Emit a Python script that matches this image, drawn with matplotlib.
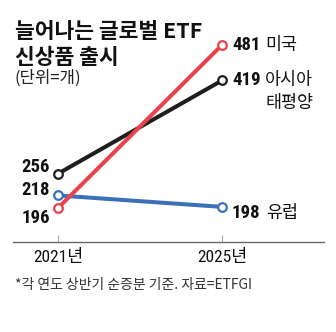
import matplotlib
matplotlib.use("Agg")
import matplotlib.pyplot as plt

# ---- data ----
years = [2021, 2025]
year_labels = ["2021년", "2025년"]
series_names = ["유럽", "아시아\n태평양", "미국"]
europe = [218, 198]
asia = [256, 419]
usa = [196, 481]
title_lines = ["늘어나는 글로벌 ETF", "신상품 출시"]
unit_text = "(단위=개)"
note_text = "*각 연도 상반기 순증분 기준. 자료=ETFGI"

KR = "Noto Sans CJK KR"
NUM = ["Roboto Condensed", KR, "DejaVu Sans"]
plt.rcParams["font.family"] = [KR, "DejaVu Sans"]

W, H = 336, 332
fig = plt.figure(figsize=(W / 100, H / 100), dpi=100)

# axes placement in pixels (from top-left)
ax_left, ax_right = 13, 324
ax_top, ax_bottom = 20, 242
ax = fig.add_axes([ax_left / W, (H - ax_bottom) / H,
                   (ax_right - ax_left) / W, (ax_bottom - ax_top) / H])
ax.set_xlim(2019.902, 2027.488)
ax.set_ylim(136.6, 524.7)
for s in ["top", "right", "left"]:
    ax.spines[s].set_visible(False)
ax.spines["bottom"].set_color("#666666")
ax.spines["bottom"].set_linewidth(1.0)
ax.set_yticks([])
ax.set_xticks(years)
ax.set_xticklabels(year_labels, fontfamily=NUM, fontsize=12.5, color="#111111")
ax.tick_params(axis="x", direction="in", length=5, width=0.8, color="#aaaaaa", pad=5)
ax.patch.set_alpha(0)

colors = {"eu": "#3b71b6", "asia": "#1e1e1e", "us": "#e8434b"}
kw = dict(lw=2.9, marker="o", markersize=6.2, markerfacecolor="white",
          markeredgewidth=1.6, solid_capstyle="round")
ax.plot(years, europe, color=colors["eu"], markeredgecolor=colors["eu"], zorder=3, **kw)
ax.plot(years, asia, color=colors["asia"], markeredgecolor=colors["asia"], zorder=4, **kw)
ax.plot(years, usa, color=colors["us"], markeredgecolor=colors["us"], zorder=5, **kw)

numkw = dict(textcoords="offset pixels", fontfamily=NUM, fontweight="bold",
             fontsize=13.5, color="#111111", va="center")
# left labels
ax.annotate(str(asia[0]), (years[0], asia[0]), xytext=(-8, 7), ha="right", **numkw)
ax.annotate(str(europe[0]), (years[0], europe[0]), xytext=(-8, 5), ha="right", **numkw)
ax.annotate(str(usa[0]), (years[0], usa[0]), xytext=(-8, -10), ha="right", **numkw)
# right labels
ax.annotate(str(usa[1]), (years[1], usa[1]), xytext=(10, 0), ha="left", **numkw)
ax.annotate(str(asia[1]), (years[1], asia[1]), xytext=(10, 0), ha="left", **numkw)
ax.annotate(str(europe[1]), (years[1], europe[1]), xytext=(10, -6), ha="left", **numkw)

namekw = dict(textcoords="offset pixels", fontfamily=KR, fontsize=12.5,
              color="#111111", ha="left", va="center")
ax.annotate(series_names[2], (years[1], usa[1]), xytext=(43, 0), **namekw)
ax.annotate(series_names[1].split("\n")[0], (years[1], asia[1]), xytext=(43, 0), **namekw)
ax.annotate(series_names[1].split("\n")[1], (years[1], asia[1]), xytext=(43, -23), **namekw)
ax.annotate(series_names[0], (years[1], europe[1]), xytext=(44, -6), **namekw)

# titles
fig.text(15 / W, 1 - 31 / H, title_lines[0], fontsize=15.5, fontweight="bold",
         color="#111111", va="center", ha="left")
fig.text(15 / W, 1 - 57 / H, title_lines[1], fontsize=15.5, fontweight="bold",
         color="#111111", va="center", ha="left")
fig.text(14 / W, 1 - 78 / H, unit_text, fontsize=12, color="#222222",
         va="center", ha="left")
fig.text(15 / W, 1 - 285 / H, note_text, fontsize=10, color="#333333",
         va="center", ha="left")

fig.savefig("out.png", dpi=100, facecolor="white")
